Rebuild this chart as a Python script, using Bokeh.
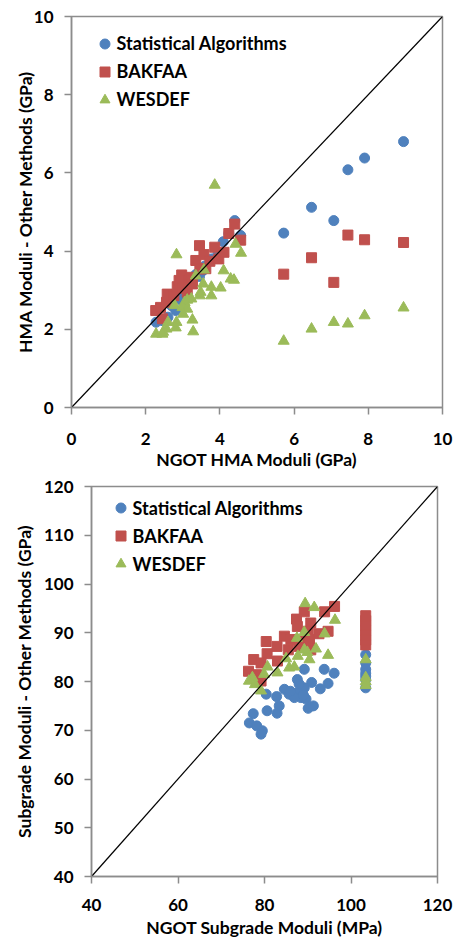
from bokeh.plotting import figure
from bokeh.layouts import column, row, Spacer
from bokeh.models import Legend, LegendItem, FixedTicker
from bokeh.embed import file_html
from bokeh.resources import INLINE

FONT = "Lato"
BLUE = "#4F81BD"
RED = "#C0504D"
GREEN = "#9BBB59"
AXIS = "#8C8C8C"

# ---------------- Top chart: HMA moduli (GPa) ----------------
hma_stat_x = [2.28, 2.45, 2.60, 2.81, 2.95, 3.05, 3.21, 3.35, 3.54, 3.60, 3.78, 3.95,
              4.09, 4.24, 4.40, 4.56, 2.70, 3.10, 3.45,
              5.72, 6.47, 7.07, 7.45, 7.90, 8.95]
hma_stat_y = [2.18, 2.22, 2.31, 2.48, 2.75, 2.90, 3.24, 3.40, 3.50, 3.62, 3.80, 3.95,
              4.24, 4.45, 4.78, 4.40, 2.60, 3.05, 3.35,
              4.46, 5.12, 4.78, 6.08, 6.38, 6.80]

hma_bak_x = [2.27, 2.40, 2.45, 2.56, 2.58, 2.76, 2.85, 2.97, 3.05, 3.12, 3.21, 3.26,
             3.35, 3.46, 3.45, 3.57, 3.73, 3.86, 3.97, 4.11, 4.24, 4.40, 4.56, 3.62,
             2.90, 3.00,
             5.72, 6.47, 7.07, 7.45, 7.90, 8.95]
hma_bak_y = [2.48, 2.56, 2.27, 2.69, 2.90, 2.86, 3.09, 3.39, 3.20, 2.95, 3.33, 3.16,
             3.76, 3.54, 4.14, 3.91, 3.74, 4.10, 3.80, 3.97, 4.45, 4.69, 4.28, 3.55,
             3.25, 3.05,
             3.41, 3.83, 3.20, 4.41, 4.29, 4.22]

hma_wes_x = [3.86, 2.83, 4.57, 4.42, 4.10, 4.29, 4.38, 4.02, 3.77, 3.77, 3.55, 3.48,
             3.46, 3.57, 3.35, 3.23, 3.12, 3.05, 2.99, 3.12, 3.01, 2.78, 3.26, 2.83,
             2.81, 2.60, 2.56, 2.47, 2.28, 3.28, 2.45,
             5.72, 6.47, 7.07, 7.45, 7.90, 8.95]
hma_wes_y = [5.69, 3.91, 3.95, 4.18, 3.50, 3.29, 3.26, 3.06, 3.08, 2.86, 3.16, 2.95,
             2.86, 3.52, 3.37, 2.78, 2.75, 2.69, 2.56, 2.52, 2.39, 2.61, 2.24, 2.18,
             2.04, 2.18, 2.01, 1.93, 1.88, 1.94, 1.88,
             1.70, 2.01, 2.18, 2.14, 2.35, 2.55]

hma_line = [0, 10]
hma_ticks = [0, 2, 4, 6, 8, 10]

# ---------------- Bottom chart: Subgrade moduli ----------------
sg_stat_x = [93.8, 96.1, 89.2, 87.6, 94.7, 90.9, 92.9, 89.2, 84.6, 85.7, 87.6, 88.4,
             86.9, 89.6, 90.1, 91.3, 80.4, 82.8, 83.4, 80.6, 82.9, 77.4, 76.5, 78.2,
             79.5, 79.2, 88.0, 86.0, 89.0,
             103.4, 103.4, 103.4, 103.4, 103.4, 103.4, 103.4]
sg_stat_y = [82.5, 81.7, 82.5, 80.4, 79.6, 79.8, 78.5, 78.7, 78.4, 77.4, 77.7, 76.7,
             76.7, 76.4, 74.5, 75.0, 77.4, 76.9, 75.0, 74.0, 73.5, 73.4, 71.5, 70.9,
             69.9, 69.2, 79.5, 78.0, 77.2,
             85.5, 83.8, 82.5, 81.7, 81.1, 80.4, 78.7]

sg_bak_x = [96.2, 93.9, 89.2, 87.4, 87.6, 90.7, 90.1, 92.6, 94.7, 84.6, 86.1, 88.0,
            90.4, 80.4, 82.9, 85.5, 88.0, 90.7, 80.6, 77.5, 79.2, 83.0, 76.3, 78.2,
            79.2,
            103.4, 103.4, 103.4, 103.4, 103.4, 103.4, 103.4]
sg_bak_y = [95.4, 94.3, 94.3, 92.8, 91.3, 92.0, 90.3, 89.8, 90.3, 89.3, 88.6, 88.2,
            88.6, 88.2, 87.2, 86.5, 87.2, 86.5, 85.7, 84.5, 83.8, 84.2, 82.1, 81.4,
            80.1,
            87.5, 88.5, 89.5, 90.5, 91.5, 92.5, 93.5]

sg_wes_x = [89.4, 91.5, 96.3, 93.9, 89.2, 87.5, 91.9, 89.9, 94.7, 89.2, 87.7, 90.4,
            85.0, 85.7, 86.9, 83.0, 80.7, 79.9, 77.2, 76.4, 77.8, 79.2,
            103.4, 103.4, 103.4, 103.4]
sg_wes_y = [96.0, 95.2, 92.6, 89.8, 90.1, 88.9, 86.7, 86.0, 85.4, 86.5, 85.2, 84.5,
            84.7, 82.8, 83.0, 81.8, 83.0, 81.5, 80.8, 80.1, 79.4, 78.1,
            84.5, 80.8, 80.0, 79.2]

sg_line = [40, 120]
sg_xticks = [40, 60, 80, 100, 120]
sg_yticks = [40, 50, 60, 70, 80, 90, 100, 110, 120]

series_names = ["Statistical Algorithms", "BAKFAA", "WESDEF"]


def style(p, xticks, yticks, ytitle_standoff, xlab_standoff, xtitle_standoff):
    p.grid.visible = False
    p.outline_line_color = AXIS
    p.outline_line_width = 1.5
    for ax in (p.xaxis[0], p.yaxis[0]):
        ax.axis_line_color = AXIS
        ax.axis_line_width = 1.5
        ax.major_tick_line_color = AXIS
        ax.major_tick_line_width = 1.5
        ax.major_tick_out = 7
        ax.major_tick_in = 0
        ax.minor_tick_line_color = None
        ax.major_label_text_font = FONT
        ax.major_label_text_font_style = "bold"
        ax.major_label_text_font_size = "17px"
        ax.major_label_text_color = "black"
        ax.axis_label_text_font = FONT
        ax.axis_label_text_font_style = "bold"
        ax.axis_label_text_font_size = "17.5px"
        ax.axis_label_text_color = "black"
    p.xaxis[0].ticker = FixedTicker(ticks=xticks)
    p.yaxis[0].ticker = FixedTicker(ticks=yticks)
    p.xaxis[0].major_label_standoff = xlab_standoff
    p.xaxis[0].axis_label_standoff = xtitle_standoff
    p.yaxis[0].major_label_standoff = 11
    p.yaxis[0].axis_label_standoff = ytitle_standoff


def make(xs, ys, line, xr, yr, xticks, yticks, xlabel, ylabel, w, h, bl, br, bt, bb, loc,
         yts, xls, xts):
    p = figure(output_backend="svg", toolbar_location=None,
               width=w, height=h,
               min_border_left=bl, min_border_right=br, min_border_top=bt, min_border_bottom=bb,
               x_range=xr, y_range=yr, x_axis_label=xlabel, y_axis_label=ylabel)
    style(p, xticks, yticks, yts, xls, xts)
    r1 = p.scatter(xs[0], ys[0], marker="circle", size=10, color=BLUE, line_color=BLUE)
    r2 = p.scatter(xs[1], ys[1], marker="square", size=10, color=RED, line_color=RED)
    r3 = p.scatter(xs[2], ys[2], marker="triangle", size=11, color=GREEN, line_color=GREEN)
    p.line(line, line, color="black", line_width=1.2)
    legend = Legend(items=[LegendItem(label=series_names[0], renderers=[r1]),
                           LegendItem(label=series_names[1], renderers=[r2]),
                           LegendItem(label=series_names[2], renderers=[r3])],
                    location=loc, background_fill_alpha=0, border_line_color=None,
                    padding=0, margin=0, spacing=3, glyph_width=25, glyph_height=25,
                    label_height=20, label_standoff=-1,
                    label_text_font=FONT, label_text_font_style="bold",
                    label_text_font_size="18px", label_text_color="black")
    p.add_layout(legend, "center")
    return p


p1 = make([hma_stat_x, hma_bak_x, hma_wes_x], [hma_stat_y, hma_bak_y, hma_wes_y], hma_line,
          (0, 10), (0, 10), hma_ticks, hma_ticks,
          "NGOT HMA Moduli (GPa)", "HMA Moduli - Other Methods (GPa)",
          457, 472, 71, 15, 16, 60, (20.5, 295.5), -5, 18, 1)
p2 = make([sg_stat_x, sg_bak_x, sg_wes_x], [sg_stat_y, sg_bak_y, sg_wes_y], sg_line,
          (40, 120), (40, 120), sg_xticks, sg_yticks,
          "NGOT Subgrade Moduli (MPa)", "Subgrade Moduli - Other Methods (GPa)",
          447, 468, 81, 20, 14, 60, (16.5, 300), 6, 15, 3)

layout = column(p1, row(Spacer(width=10, height=468), p2, spacing=0), spacing=0)
open("out.html", "w").write(file_html(layout, INLINE))
